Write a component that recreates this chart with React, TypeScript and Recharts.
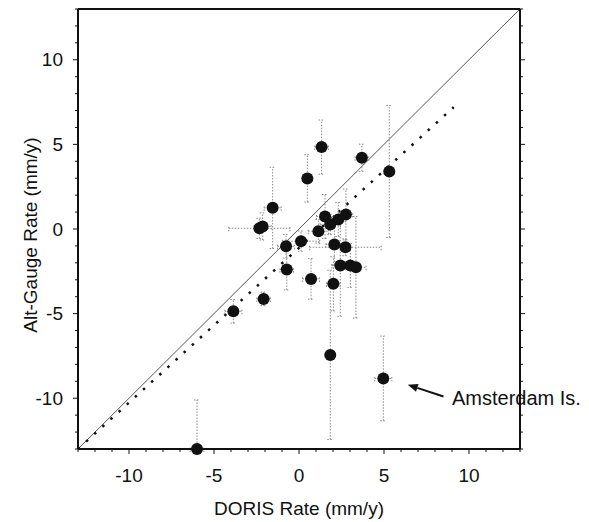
import React from "react";
import {
  ScatterChart,
  Scatter,
  XAxis,
  YAxis,
  ErrorBar,
  ReferenceLine,
  ReferenceDot,
} from "recharts";

// station rates (mm/y)
const DORIS_RATE = [
  1.33, 3.7, 5.31, 0.49, -1.55, -2.33, -2.14, -0.76, 0.12, 1.14, 1.53, 1.84,
  2.31, 2.76, 2.08, 2.73, -0.72, 0.71, 2.43, 3.02, 3.35, 2.02, -2.08, -3.86,
  1.84, 4.96, -6.0,
];
const GAUGE_RATE = [
  4.84, 4.21, 3.4, 2.99, 1.25, 0.04, 0.15, -1.02, -0.72, -0.13, 0.74, 0.27,
  0.56, 0.86, -0.92, -1.08, -2.4, -2.95, -2.16, -2.16, -2.26, -3.24, -4.13,
  -4.86, -7.44, -8.83, -13.0,
];
const DORIS_ERR = [
  0.4, 0.4, 0.3, 0.3, 0.5, 1.8, 0.5, 0.5, 1.1, 0.6, 0.5, 0.6, 0.4, 0.4, 0.5,
  2.1, 0.4, 0.5, 0.5, 0.5, 0.6, 0.4, 0.4, 0.5, 0.3, 0.5, 0.4,
];
// last one: only the part inside the frame (the rest runs below the axis)
const GAUGE_ERR: (number | number[])[] = [
  1.6, 0.8, 3.9, 1.4, 2.4, 0.6, 0.8, 0.7, 0.6, 0.7, 1.3, 0.6, 1.0, 1.5, 1.2,
  0.5, 1.2, 1.2, 3.0, 1.3, 3.0, 1.6, 0.4, 0.7, 5.0, 2.5, [0, 2.9],
];

const AXIS_TICKS = [
  -13, -12, -11, -10, -9, -8, -7, -6, -5, -4, -3, -2, -1, 0, 1, 2, 3, 4, 5, 6,
  7, 8, 9, 10, 11, 12, 13,
];
const LABELED_TICKS = [-10, -5, 0, 5, 10];

const ONE_TO_ONE = [
  { x: -13, y: -13 },
  { x: 13, y: 13 },
];
const FIT_LINE = [
  { x: -13, y: -13 },
  { x: 9.1, y: 7.2 },
];
const ARROW = [
  { x: 8.5, y: -9.9 },
  { x: 6.4, y: -9.2 },
];
const NOTE = { x: 9.0, y: -10.0, text: "Amsterdam Is." };

const FONT = '"Liberation Sans", Arial, Helvetica, sans-serif';
const INK = "#111";

const points = DORIS_RATE.map((x, i) => ({
  x,
  y: GAUGE_RATE[i],
  ex: DORIS_ERR[i],
  ey: GAUGE_ERR[i],
}));

const isMajor = (v: number) => LABELED_TICKS.includes(v);

const BottomTick = (props: any) => {
  const { x, y, payload } = props;
  const major = isMajor(payload.value);
  return (
    <g>
      <line x1={x} x2={x} y1={y} y2={y + (major ? 5 : 3)} stroke={INK} />
      {major && (
        <text
          x={x}
          y={y + 33}
          textAnchor="middle"
          fontSize={19}
          fontFamily={FONT}
          fill={INK}
        >
          {payload.value}
        </text>
      )}
    </g>
  );
};

const TopTick = (props: any) => {
  const { x, y, payload } = props;
  return (
    <line
      x1={x}
      x2={x}
      y1={y}
      y2={y - (isMajor(payload.value) ? 5 : 3)}
      stroke={INK}
    />
  );
};

const LeftTick = (props: any) => {
  const { x, y, payload } = props;
  const major = isMajor(payload.value);
  return (
    <g>
      <line x1={x} x2={x - (major ? 5 : 3)} y1={y} y2={y} stroke={INK} />
      {major && (
        <text
          x={x - 15}
          y={y + 6.5}
          textAnchor="end"
          fontSize={19}
          fontFamily={FONT}
          fill={INK}
        >
          {payload.value}
        </text>
      )}
    </g>
  );
};

const RightTick = (props: any) => {
  const { x, y, payload } = props;
  return (
    <line
      x1={x}
      x2={x + (isMajor(payload.value) ? 5 : 3)}
      y1={y}
      y2={y}
      stroke={INK}
    />
  );
};

const Dot = (props: any) => <circle cx={props.cx} cy={props.cy} r={6} fill={INK} />;

const ArrowShape = (props: any) => {
  const { x1, y1, x2, y2 } = props;
  const a = Math.atan2(y2 - y1, x2 - x1);
  const len = 10;
  const half = 4;
  const bx = x2 - len * Math.cos(a);
  const by = y2 - len * Math.sin(a);
  const pts = [
    `${x2},${y2}`,
    `${bx + half * Math.sin(a)},${by - half * Math.cos(a)}`,
    `${bx - half * Math.sin(a)},${by + half * Math.cos(a)}`,
  ].join(" ");
  return (
    <g>
      <line x1={x1} y1={y1} x2={bx} y2={by} stroke={INK} strokeWidth={2} />
      <polygon points={pts} fill={INK} />
    </g>
  );
};

export default function App() {
  return (
    <div style={{ width: 589, height: 522, background: "#fff" }}>
      <style>{"body{margin:0}"}</style>
      <ScatterChart
        width={589}
        height={522}
        margin={{ top: 8, right: 68, bottom: 0, left: 0 }}
      >
        <XAxis
          type="number"
          dataKey="x"
          domain={[-13, 13]}
          ticks={AXIS_TICKS}
          interval={0}
          height={73}
          tickSize={0}
          tickMargin={0}
          tickLine={false}
          tick={BottomTick}
          axisLine={{ stroke: INK, strokeWidth: 2 }}
          label={(p: any) => {
            const vb = p.viewBox;
            return (
              <text
                x={vb.x + vb.width / 2}
                y={vb.y + 66}
                textAnchor="middle"
                fontSize={19}
                fontFamily={FONT}
                fill={INK}
              >
                DORIS Rate (mm/y)
              </text>
            );
          }}
        />
        <XAxis
          xAxisId="top"
          orientation="top"
          type="number"
          domain={[-13, 13]}
          allowDataOverflow
          ticks={AXIS_TICKS}
          interval={0}
          height={1}
          tickSize={0}
          tickMargin={0}
          tickLine={false}
          tick={TopTick}
          axisLine={{ stroke: INK, strokeWidth: 2 }}
        />
        <YAxis
          type="number"
          dataKey="y"
          domain={[-13, 13]}
          ticks={AXIS_TICKS}
          interval={0}
          width={78}
          tickSize={0}
          tickMargin={0}
          tickLine={false}
          tick={LeftTick}
          axisLine={{ stroke: INK, strokeWidth: 2 }}
          label={(p: any) => {
            const vb = p.viewBox;
            return (
              <text
                transform={`translate(${vb.x + 37},${vb.y + vb.height / 2 + 6}) rotate(-90)`}
                textAnchor="middle"
                fontSize={19}
                fontFamily={FONT}
                fill={INK}
              >
                Alt-Gauge Rate (mm/y)
              </text>
            );
          }}
        />
        <YAxis
          yAxisId="right"
          orientation="right"
          type="number"
          domain={[-13, 13]}
          allowDataOverflow
          ticks={AXIS_TICKS}
          interval={0}
          width={1}
          tickSize={0}
          tickMargin={0}
          tickLine={false}
          tick={RightTick}
          axisLine={{ stroke: INK, strokeWidth: 2 }}
        />

        <ReferenceLine segment={ONE_TO_ONE} stroke="#555" strokeWidth={1} />
        <ReferenceLine
          segment={FIT_LINE}
          stroke={INK}
          strokeWidth={2.5}
          strokeDasharray="2.5 8.5"
        />

        <Scatter data={points} shape={Dot} isAnimationActive={false}>
          <ErrorBar
            dataKey="ey"
            direction="y"
            width={3}
            stroke="#8a8a8a"
            strokeWidth={1}
            strokeDasharray="1.5 1.5"
          />
          <ErrorBar
            dataKey="ex"
            direction="x"
            width={3}
            stroke="#8a8a8a"
            strokeWidth={1}
            strokeDasharray="1.5 1.5"
          />
        </Scatter>

        <ReferenceLine segment={ARROW} shape={ArrowShape} />
        <ReferenceDot
          x={NOTE.x}
          y={NOTE.y}
          r={0}
          fill="none"
          stroke="none"
          label={{
            value: NOTE.text,
            position: "right",
            offset: 0,
            fontSize: 20,
            fontFamily: FONT,
            fill: INK,
          }}
        />
      </ScatterChart>
    </div>
  );
}
